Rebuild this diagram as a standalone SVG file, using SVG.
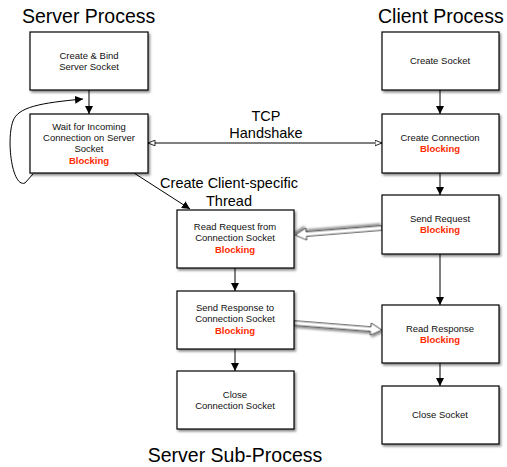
<svg xmlns="http://www.w3.org/2000/svg" width="507" height="467" viewBox="0 0 507 467">
  <defs>
    <filter id="shadow" x="-10%" y="-10%" width="130%" height="140%">
      <feDropShadow dx="1.5" dy="2" stdDeviation="1.2" flood-color="#000" flood-opacity="0.45"/>
    </filter>
    <marker id="arrow" viewBox="0 0 10 10" refX="10" refY="5" markerWidth="8" markerHeight="8" markerUnits="userSpaceOnUse" orient="auto">
      <path d="M0,0 L10,5 L0,10 z" fill="#000"/>
    </marker>
    <marker id="open" viewBox="0 0 10 10" refX="10" refY="5" markerWidth="8" markerHeight="7" markerUnits="userSpaceOnUse" orient="auto-start-reverse">
      <path d="M0,1 L10,5 L0,9 z" fill="#fff" stroke="#000" stroke-width="1.2"/>
    </marker>
  </defs>
  <style>
    .box { fill: #fff; stroke: #000; stroke-width: 1.2; filter: url(#shadow); }
    .t { font-family: "Liberation Sans", Arial, sans-serif; font-size: 9.5px; fill: #111; text-anchor: middle; }
    .b { font-family: "Liberation Sans", Arial, sans-serif; font-size: 9.5px; font-weight: bold; fill: #ff2a00; text-anchor: middle; }
    .title { font-family: "Liberation Sans", Arial, sans-serif; font-size: 19.5px; fill: #000; }
    .lbl { font-family: "Liberation Sans", Arial, sans-serif; font-size: 14.5px; fill: #000; text-anchor: middle; }
    .conn { fill: none; stroke: #000; stroke-width: 1; }
    .hollow { fill: #fff; stroke: #444; stroke-width: 1; filter: url(#shadow); }
  </style>

  <!-- section titles -->
  <text class="title" x="22" y="23">Server Process</text>
  <text class="title" x="378" y="23">Client Process</text>
  <text class="title" x="235" y="462" text-anchor="middle">Server Sub-Process</text>

  <!-- connectors -->
  <g id="connectors">
    <line class="conn" x1="89" y1="90" x2="89" y2="114" marker-end="url(#arrow)"/>
    <path class="conn" d="M33,174 L25,183 C12,188 6,140 13,121 C18,107 40,103 83,99" marker-end="url(#arrow)"/>
    <line class="conn" x1="148" y1="143" x2="382" y2="143" marker-start="url(#open)" marker-end="url(#open)"/>
    <line class="conn" x1="134" y1="173" x2="190" y2="209" marker-end="url(#arrow)"/>
    <line class="conn" x1="235" y1="268" x2="235" y2="291" marker-end="url(#arrow)"/>
    <line class="conn" x1="235" y1="349" x2="235" y2="371" marker-end="url(#arrow)"/>
    <line class="conn" x1="440" y1="90" x2="440" y2="114" marker-end="url(#arrow)"/>
    <line class="conn" x1="440" y1="173" x2="440" y2="195" marker-end="url(#arrow)"/>
    <line class="conn" x1="440" y1="254" x2="440" y2="305" marker-end="url(#arrow)"/>
    <line class="conn" x1="440" y1="363" x2="440" y2="386" marker-end="url(#arrow)"/>
    <!-- data transfer arrows -->
    <g transform="translate(382,228) rotate(175.4)">
      <polygon class="hollow" points="0,-2.2 76,-2.2 76,-6 87,0 76,6 76,2.2 0,2.2"/>
    </g>
    <g transform="translate(294,323) rotate(4.55)">
      <polygon class="hollow" points="0,-2.2 77,-2.2 77,-6 88,0 77,6 77,2.2 0,2.2"/>
    </g>
  </g>

  <!-- connector labels -->
  <text class="lbl" x="266" y="121">TCP</text>
  <text class="lbl" x="266" y="138">Handshake</text>
  <text class="lbl" x="229" y="188">Create Client-specific</text>
  <text class="lbl" x="229" y="206">Thread</text>

  <!-- server process -->
  <g id="create-bind">
    <rect class="box" x="30" y="32" width="118" height="58"/>
    <text class="t" x="89" y="59">Create &amp; Bind</text>
    <text class="t" x="89" y="70">Server Socket</text>
  </g>
  <g id="wait-incoming">
    <rect class="box" x="30" y="114" width="118" height="59"/>
    <text class="t" x="89" y="130">Wait for Incoming</text>
    <text class="t" x="89" y="141">Connection on Server</text>
    <text class="t" x="89" y="152">Socket</text>
    <text class="b" x="89" y="164">Blocking</text>
  </g>

  <!-- server sub-process -->
  <g id="read-request">
    <rect class="box" x="177" y="210" width="117" height="58"/>
    <text class="t" x="235" y="230">Read Request from</text>
    <text class="t" x="235" y="241">Connection Socket</text>
    <text class="b" x="235" y="253">Blocking</text>
  </g>
  <g id="send-response">
    <rect class="box" x="177" y="291" width="117" height="58"/>
    <text class="t" x="235" y="311">Send Response to</text>
    <text class="t" x="235" y="322">Connection Socket</text>
    <text class="b" x="235" y="334">Blocking</text>
  </g>
  <g id="close-connection">
    <rect class="box" x="177" y="371" width="117" height="58"/>
    <text class="t" x="235" y="398">Close</text>
    <text class="t" x="235" y="409">Connection Socket</text>
  </g>

  <!-- client process -->
  <g id="create-socket">
    <rect class="box" x="382" y="32" width="117" height="58"/>
    <text class="t" x="440" y="64">Create Socket</text>
  </g>
  <g id="create-connection">
    <rect class="box" x="382" y="114" width="117" height="59"/>
    <text class="t" x="440" y="141">Create Connection</text>
    <text class="b" x="440" y="152">Blocking</text>
  </g>
  <g id="send-request">
    <rect class="box" x="382" y="195" width="117" height="59"/>
    <text class="t" x="440" y="222">Send Request</text>
    <text class="b" x="440" y="233">Blocking</text>
  </g>
  <g id="read-response">
    <rect class="box" x="382" y="305" width="117" height="58"/>
    <text class="t" x="440" y="332">Read Response</text>
    <text class="b" x="440" y="343">Blocking</text>
  </g>
  <g id="close-socket">
    <rect class="box" x="382" y="386" width="117" height="58"/>
    <text class="t" x="440" y="418">Close Socket</text>
  </g>
</svg>
